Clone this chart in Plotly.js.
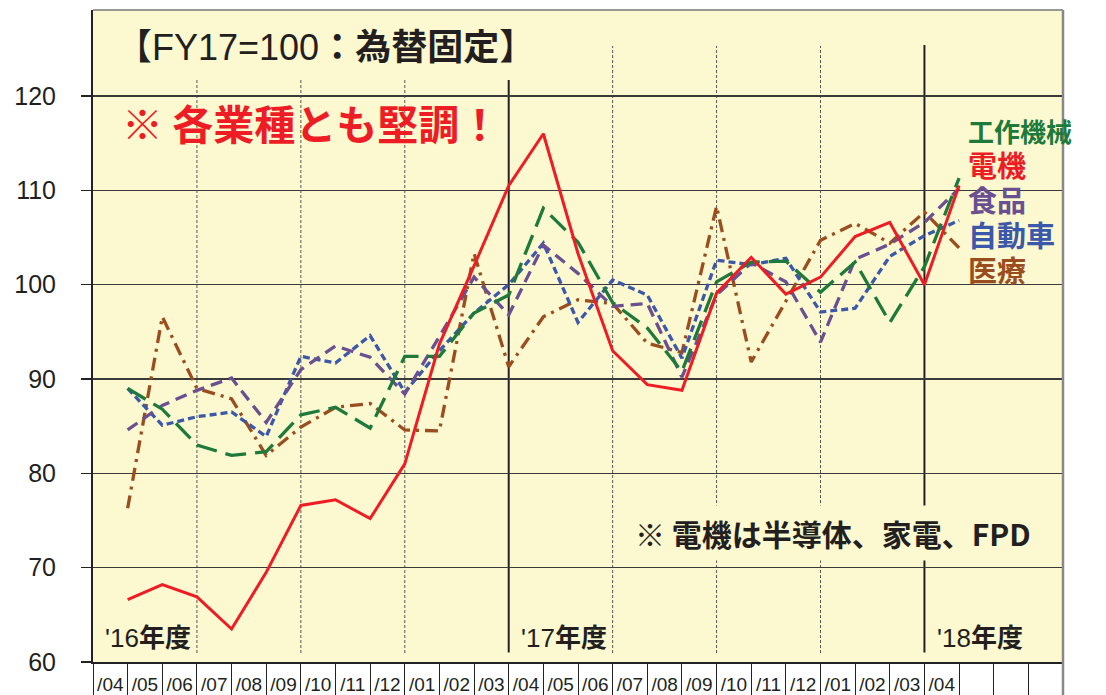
<!DOCTYPE html>
<html>
<head>
<meta charset="utf-8">
<script src="https://cdn.plot.ly/plotly-3.0.1.min.js"></script>
<style>html,body{margin:0;padding:0;background:#fff;}#chart{width:1106px;height:695px;}</style>
</head>
<body>
<div id="chart"></div>
<script>
// Month labels (FY16/04 .. FY18/04)
const months = ['/04','/05','/06','/07','/08','/09','/10','/11','/12','/01','/02','/03',
                '/04','/05','/06','/07','/08','/09','/10','/11','/12','/01','/02','/03','/04'];
const blankCells = ['', '', ''];
// Index values (FY17 = 100, fixed FX)
const machineTools = [89.0, 86.8, 83.0, 81.9, 82.3, 86.2, 87.0, 84.8, 92.4, 92.4, 97.0, 98.9,
                      108.1, 104.5, 98.1, 95.4, 90.8, 100.3, 102.4, 102.5, 99.2, 102.4, 96.0, 101.9, 111.3];
const electrical   = [66.6, 68.2, 66.9, 63.5, 69.5, 76.6, 77.2, 75.2, 81.0, 93.7, 102.0, 110.5,
                      116.0, 103.3, 93.0, 89.4, 88.8, 99.1, 102.9, 99.0, 100.8, 105.1, 106.6, 100.0, 110.5];
const food         = [84.6, 87.2, 88.8, 90.1, 85.4, 91.0, 93.5, 92.3, 88.4, 94.5, 100.8, 96.8,
                      104.2, 101.2, 97.7, 98.0, 90.2, 98.9, 102.3, 100.3, 93.9, 102.7, 104.3, 106.6, 110.2];
const automotive   = [89.0, 85.1, 86.0, 86.5, 83.9, 92.4, 91.7, 94.6, 88.6, 93.0, 97.0, 100.0,
                      104.4, 96.0, 100.5, 98.9, 92.2, 102.6, 102.1, 102.8, 97.1, 97.5, 103.0, 105.2, 106.8];
const medical      = [76.3, 96.6, 89.0, 87.9, 81.9, 84.9, 87.0, 87.4, 84.6, 84.5, 103.3, 91.3,
                      96.6, 98.4, 98.0, 93.8, 92.8, 108.3, 91.8, 98.3, 104.7, 106.5, 104.4, 107.7, 103.9];
const seriesNames = ['工作機械', '電機', '食品', '自動車', '医療'];
const yTicks = [60, 70, 80, 90, 100, 110, 120];
const fyLabels = ["'16", "'17", "'18"];
const fyStartIdx = [0, 12, 24];
const quarterBounds = [3, 6, 9, 15, 18, 21];
const fyBounds = [12, 24];

const cellLabels = months.concat(blankCells);
const nCells = cellLabels.length;
const xs = months.map((m, i) => i + 1);

const COLORS = {green:'#1d7a3b', red:'#ee1c25', purple:'#6a4f91', blue:'#3b58ab', brown:'#9a4d1f'};
const BG = '#fcf8cf';
const JP = "'Noto Sans CJK JP', sans-serif";
const LAT = "'Liberation Sans', Arial, 'Noto Sans CJK JP', sans-serif";

function tr(name, y, color, dash, w) {
  return {type:'scatter', mode:'lines', name:name, x:xs, y:y,
          line:{color:color, width:w, dash:dash}, hoverinfo:'skip'};
}
const data = [
  tr(seriesNames[4], medical, COLORS.brown, '13px,6px,3px,6px', 3.3),
  tr(seriesNames[3], automotive, COLORS.blue, '7px,4px', 3.3),
  tr(seriesNames[2], food, COLORS.purple, '12px,7px', 3.3),
  tr(seriesNames[0], machineTools, COLORS.green, '21px,9px', 3.3),
  tr(seriesNames[1], electrical, COLORS.red, 'solid', 3)
];

const yTop = 60 + 652 / (566 / 60);
const shapes = [];
quarterBounds.forEach(q => {
  shapes.push({type:'line', xref:'x', yref:'y', x0:q, x1:q,
    y0:60.95, y1:(q < 12 ? 121.7 : 125.3), layer:'below',
    line:{color:'#555', width:1, dash:'3px,2px'}});
});
fyBounds.forEach(q => {
  shapes.push({type:'line', xref:'x', yref:'y', x0:q, x1:q,
    y0:61.0, y1:(q < 24 ? 121.7 : 125.4), layer:'below',
    line:{color:'#222', width:2}});
});
// frame: top and right borders
shapes.push({type:'line', xref:'paper', yref:'paper', x0:0, x1:1, y0:1, y1:1, line:{color:'#777', width:1.5}});
shapes.push({type:'line', xref:'paper', yref:'paper', x0:1, x1:1, y0:-33/652, y1:1, line:{color:'#888', width:2.5}});

const annotations = [
  {xref:'x', yref:'y', x:0.62, y:125.1, xanchor:'left', yanchor:'middle', showarrow:false,
   text:'【FY17=100<b>：為替固定</b>】', font:{family:LAT, size:36, color:'#231f20'}},
  {xref:'x', yref:'y', x:0.78, y:117.2, xanchor:'left', yanchor:'middle', showarrow:false,
   text:'<b>※ 各業種とも堅調！</b>', font:{family:JP, size:41, color:COLORS.red}},
  {xref:'x', yref:'y', x:15.6, y:73.7, xanchor:'left', yanchor:'middle', showarrow:false,
   text:'<b>※ 電機は半導体、家電、FPD</b>', font:{family:JP, size:30, color:'#231f20'},
   bgcolor:BG, height:52, valign:'middle'}
];
// Legend-like label block (one text, one line per series)
const legendColors = [COLORS.green, COLORS.red, COLORS.purple, COLORS.blue, COLORS.brown];
const legendText = seriesNames.map((n, i) =>
  '<span style="color:' + legendColors[i] + ';font-size:' + (n.length > 3 ? 26 : 29) + 'px"><b>' + n + '</b></span>'
).join('<br>');
annotations.push({xref:'x', yref:'y', x:25.2, y:108.85, xanchor:'left', yanchor:'middle',
  showarrow:false, align:'left', text:legendText,
  font:{family:JP, size:27, color:COLORS.green}});
fyLabels.forEach((f, i) => {
  annotations.push({xref:'x', yref:'y', x:fyStartIdx[i] + 0.3, y:62.5, xanchor:'left', yanchor:'middle',
    showarrow:false, text:f + '<b>年度</b>', font:{family:LAT, size:26, color:'#231f20'}});
});

const layout = {
  width:1106, height:695,
  margin:{l:93, r:43, t:10, b:33, pad:0},
  paper_bgcolor:'#ffffff', plot_bgcolor:BG,
  showlegend:false,
  xaxis:{range:[0, nCells], tickmode:'array',
    tickvals:cellLabels.map((c, i) => i + 0.5), ticktext:cellLabels,
    ticks:'', showgrid:false, zeroline:false, fixedrange:true,
    showline:true, linecolor:'#222', linewidth:1.5,
    tickfont:{family:LAT, size:19, color:'#231f20'}, ticklabelstandoff:5,
    minor:{tickmode:'linear', tick0:0, dtick:1, ticks:'outside', ticklen:33,
           tickcolor:'#222', tickwidth:1, showgrid:false}},
  yaxis:{range:[60, yTop], tickmode:'array', tickvals:yTicks,
    ticks:'outside', ticklen:10, tickcolor:'#222', tickwidth:1.2,
    showgrid:true, gridcolor:'#3a3a3a', gridwidth:1.2, zeroline:false, fixedrange:true,
    showline:true, linecolor:'#222', linewidth:2,
    tickfont:{family:LAT, size:25, color:'#231f20'}, ticklabelstandoff:20},
  shapes:shapes, annotations:annotations
};
Plotly.newPlot('chart', data, layout, {displayModeBar:false, staticPlot:true});
</script>
</body>
</html>
